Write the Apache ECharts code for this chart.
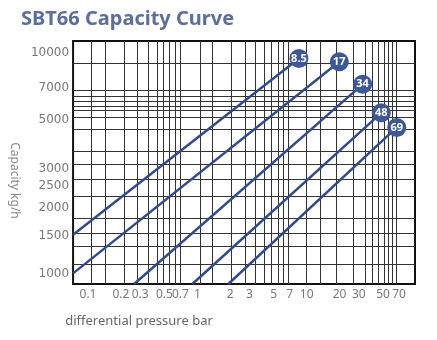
<!DOCTYPE html>
<html>
<head>
<meta charset="utf-8">
<script src="https://cdn.jsdelivr.net/npm/echarts@6/dist/echarts.min.js"></script>
<style>
  html, body { margin: 0; padding: 0; background: #fff; }
  #chart { width: 437px; height: 340px; }
</style>
</head>
<body>
<div id="chart"></div>
<script>
// Tick labels
const pressureLabels = [0.1, 0.2, 0.3, 0.5, 0.7, 1, 2, 3, 5, 7, 10, 20, 30, 50, 70];
const capacityLabels = [1000, 1500, 2000, 2500, 3000, 5000, 7000, 10000];

// Grid lines as drawn in the reference (not evenly log spaced)
const pressureGrid = [
  0.108, 0.145, 0.213, 0.283, 0.354, 0.431, 0.488, 0.559, 0.632, 0.694,
  1.07, 1.38, 2.03, 2.72, 3.39, 4.10, 4.77, 5.46, 6.13, 6.79,
  9.94, 13.2, 18.6, 26.5, 34.2, 40.1, 45.6, 51.5, 55.9, 61.1, 66.7
];
const capacityGrid = [
  1113, 1343, 1533, 1792, 2261, 2691, 3156, 3587, 4530,
  5132, 5538, 5775, 6039, 6363, 6772, 9012
];

// Curves: one straight line per orifice size (log-log)
const curveNames = ['8.5', '17', '34', '48', '69'];
const curveStartP = [0.073, 0.073, 0.264, 0.90, 1.92];
const curveStartQ = [1510, 1010, 904, 904, 904];
const curveEndP = [8.5, 19.9, 32.5, 48.2, 66.7];
const curveEndQ = [9480, 9160, 7240, 5380, 4620];

const lineColor = '#2f4a8f';
const dotColor = '#3c5899';

function fmt(v) {
  return String(+Number(v).toPrecision(3));
}

const chart = echarts.init(document.getElementById('chart'), null, { renderer: 'canvas' });

const option = {
  animation: false,
  title: {
    text: 'SBT66 Capacity Curve',
    left: 16,
    top: 4,
    textStyle: {
      fontFamily: 'Noto Sans',
      fontSize: 20,
      fontWeight: 'bold',
      color: '#5b6e9f'
    }
  },
  grid: {
    left: 62,
    right: 22,
    top: 41,
    bottom: 56,
    show: true,
    borderWidth: 2,
    borderColor: '#111',
    containLabel: false
  },
  xAxis: {
    type: 'log',
    logBase: 10,
    min: 0.073,
    max: 98,
    name: 'differential pressure bar',
    nameLocation: 'middle',
    nameGap: 31,
    nameTextStyle: {
      fontFamily: 'Noto Sans',
      fontSize: 13,
      color: '#666',
      padding: [0, 210, 0, 0]
    },
    axisLine: { show: false },
    axisTick: { show: false, customValues: pressureGrid },
    axisLabel: {
      customValues: pressureLabels,
      formatter: fmt,
      margin: 5,
      fontFamily: 'Noto Sans',
      fontSize: 12,
      color: '#777'
    },
    splitLine: { show: true, lineStyle: { color: '#333', width: 1 } }
  },
  yAxis: {
    type: 'log',
    logBase: 10,
    min: 904,
    max: 11370,
    name: 'Capacity kg/h',
    nameLocation: 'middle',
    nameRotate: -90,
    nameGap: 40,
    nameTextStyle: {
      fontFamily: 'Noto Sans',
      fontSize: 12,
      color: '#888',
      padding: [0, 0, 0, 36]
    },
    axisLine: { show: false },
    axisTick: { show: false, customValues: capacityGrid },
    axisLabel: {
      customValues: capacityLabels,
      formatter: fmt,
      margin: 4,
      fontFamily: 'DejaVu Sans',
      fontSize: 12,
      color: '#777'
    },
    splitLine: { show: true, lineStyle: { color: '#333', width: 1 } }
  },
  series: curveNames.map((name, i) => ({
    name: name,
    type: 'line',
    lineStyle: { color: lineColor, width: 2.5 },
    itemStyle: { color: dotColor },
    z: 3,
    data: [
      { value: [curveStartP[i], curveStartQ[i]], symbol: 'none' },
      {
        value: [curveEndP[i], curveEndQ[i]],
        symbol: 'circle',
        symbolSize: 19,
        label: {
          show: true,
          position: 'inside',
          formatter: name,
          color: '#fff',
          fontFamily: 'Noto Sans',
          fontWeight: 'bold',
          fontSize: 11
        }
      }
    ]
  }))
};

chart.setOption(option);
</script>
</body>
</html>
